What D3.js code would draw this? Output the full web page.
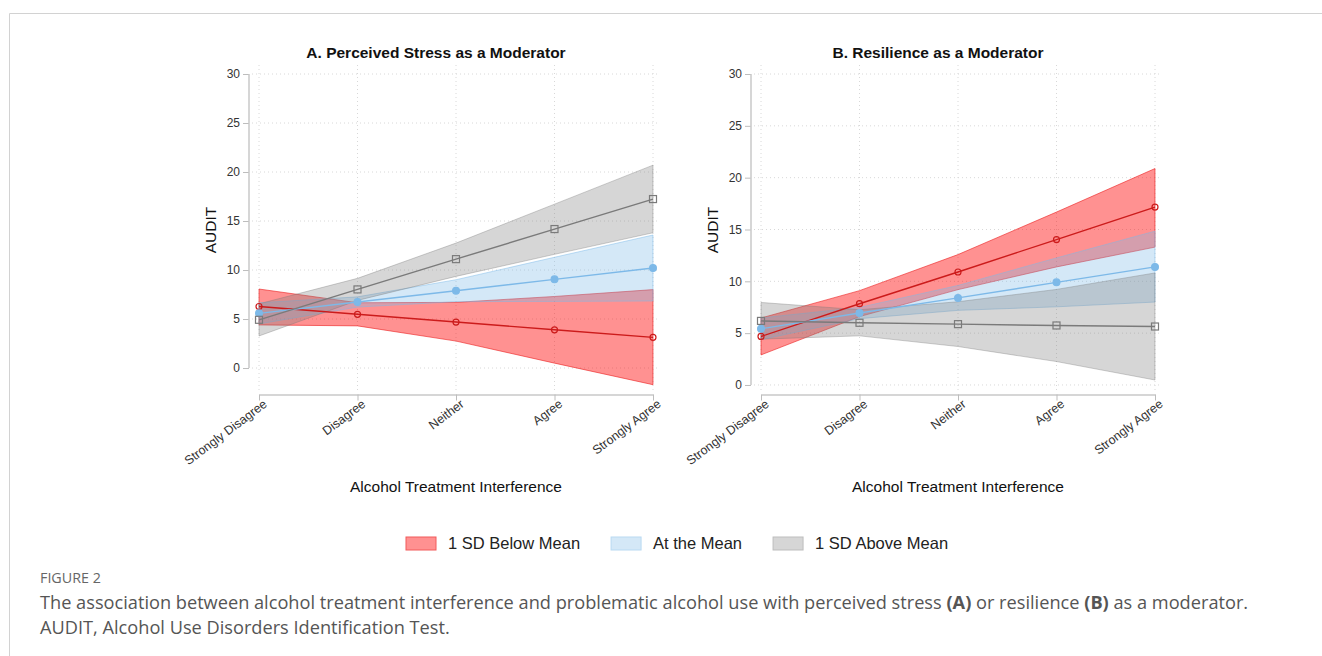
<!DOCTYPE html>
<html>
<head>
<meta charset="utf-8">
<script src="https://cdn.jsdelivr.net/npm/d3@7"></script>
<style>
  body { margin: 0; background: #fff; }
  svg { display: block; }
</style>
</head>
<body>
<div id="chart"></div>
<script>
const categories = ["Strongly Disagree", "Disagree", "Neither", "Agree", "Strongly Agree"];
const yTicks = [0, 5, 10, 15, 20, 25, 30];
const groups = ["1 SD Below Mean", "At the Mean", "1 SD Above Mean"];

// Panel A: perceived stress as moderator (predicted AUDIT, 95% CI)
const stressBelow    = [6.28, 5.48, 4.69, 3.90, 3.13];
const stressBelowLo  = [4.40, 4.30, 2.75, 0.50, -1.70];
const stressBelowHi  = [8.06, 6.66, 6.70, 7.30, 8.00];
const stressMean     = [5.58, 6.74, 7.89, 9.05, 10.20];
const stressMeanLo   = [4.50, 6.22, 6.77, 6.80, 6.84];
const stressMeanHi   = [6.66, 7.26, 9.01, 11.30, 13.57];
const stressAbove    = [4.92, 8.02, 11.11, 14.18, 17.24];
const stressAboveLo  = [3.27, 6.90, 9.35, 11.60, 13.80];
const stressAboveHi  = [6.55, 9.15, 12.75, 16.72, 20.70];

// Panel B: resilience as moderator
const resBelow   = [4.68, 7.84, 10.90, 14.03, 17.16];
const resBelowLo = [2.90, 6.60, 9.20, 11.39, 13.30];
const resBelowHi = [6.46, 9.10, 12.58, 16.68, 20.88];
const resMean    = [5.42, 6.94, 8.40, 9.90, 11.39];
const resMeanLo  = [4.37, 6.40, 7.20, 7.54, 8.00];
const resMeanHi  = [6.47, 7.48, 9.60, 12.26, 14.84];
const resAbove   = [6.18, 6.00, 5.87, 5.74, 5.64];
const resAboveLo = [4.42, 4.74, 3.71, 2.26, 0.48];
const resAboveHi = [7.96, 7.26, 8.03, 9.22, 10.81];

const width = 1322, height = 656;
const font = "'Liberation Sans', Arial, sans-serif";

// styles per group: below, mean, above
const styles = [
  {fill: "rgba(255,0,0,0.43)", edge: "rgba(235,30,30,0.75)", line: "#cc1b1b", marker: "circle", hollow: true},
  {fill: "rgba(125,185,232,0.33)", edge: "rgba(125,185,232,0.6)", line: "#7db9e8", marker: "circle", hollow: false},
  {fill: "rgba(128,128,128,0.32)", edge: "rgba(120,120,120,0.45)", line: "#7a7a7a", marker: "square", hollow: true}
];

const svg = d3.select("#chart")
  .append("svg")
  .attr("width", width)
  .attr("height", height)
  .attr("viewBox", [0, 0, width, height]);

// page frame
svg.append("path")
  .attr("d", `M${width},13.5H9.5V${height}`)
  .attr("fill", "none")
  .attr("stroke", "#d2d2d2")
  .attr("stroke-width", 1);

function drawPanel(opts) {
  const g = svg.append("g");

  const x = d3.scalePoint()
    .domain(categories)
    .range([opts.left, opts.left + 394]);

  const y = d3.scaleLinear()
    .domain([opts.yMin, 30])
    .range([394, 74]);

  const axisX = opts.left - 10;

  // grid
  g.append("g").selectAll("line")
    .data(yTicks)
    .join("line")
    .attr("x1", axisX + 3).attr("x2", opts.left + 401)
    .attr("y1", d => y(d)).attr("y2", d => y(d))
    .attr("stroke", "#d8d8d8").attr("stroke-dasharray", "1,3");

  g.append("g").selectAll("line")
    .data(categories)
    .join("line")
    .attr("x1", d => x(d)).attr("x2", d => x(d))
    .attr("y1", 65).attr("y2", 392)
    .attr("stroke", "#d8d8d8").attr("stroke-dasharray", "1,3");

  // CI bands
  const area = d3.area()
    .x((d, i) => x(categories[i]))
    .y0(d => y(d[0]))
    .y1(d => y(d[1]));

  opts.series.forEach((s, k) => {
    const band = s.lo.map((v, i) => [v, s.hi[i]]);
    g.append("path")
      .datum(band)
      .attr("d", area)
      .attr("fill", styles[k].fill)
      .attr("stroke", styles[k].edge)
      .attr("stroke-width", 0.8);
  });

  // lines and markers
  const line = d3.line()
    .x((d, i) => x(categories[i]))
    .y(d => y(d));

  opts.series.forEach((s, k) => {
    const st = styles[k];
    g.append("path")
      .datum(s.fit)
      .attr("d", line)
      .attr("fill", "none")
      .attr("stroke", st.line)
      .attr("stroke-width", 1.4);

    const pts = s.fit.map((v, i) => ({c: categories[i], v: v}));
    if (st.marker === "circle") {
      g.append("g").selectAll("circle")
        .data(pts)
        .join("circle")
        .attr("cx", d => x(d.c))
        .attr("cy", d => y(d.v))
        .attr("r", st.hollow ? 3 : 3.4)
        .attr("fill", st.hollow ? "none" : st.line)
        .attr("stroke", st.line)
        .attr("stroke-width", 1.2);
    } else {
      g.append("g").selectAll("rect")
        .data(pts)
        .join("rect")
        .attr("x", d => x(d.c) - 3.5)
        .attr("y", d => y(d.v) - 3.5)
        .attr("width", 7).attr("height", 7)
        .attr("fill", "none")
        .attr("stroke", st.line)
        .attr("stroke-width", 1.2);
    }
  });

  // y axis
  const yAxis = g.append("g")
    .attr("transform", `translate(${axisX},0)`)
    .call(d3.axisLeft(y).tickValues(yTicks).tickSize(6).tickPadding(3).tickSizeOuter(0));
  yAxis.select(".domain").remove();
  yAxis.append("line")
    .attr("y1", y(0)).attr("y2", y(30))
    .attr("stroke", "#c8c8c8").attr("stroke-width", 1.5);
  yAxis.selectAll(".tick line").attr("stroke", "#bdbdbd");
  yAxis.selectAll(".tick text")
    .attr("fill", "#333").attr("font-family", font).attr("font-size", 12);

  // x axis
  const xAxis = g.append("g")
    .attr("transform", `translate(0,394.5)`)
    .call(d3.axisBottom(x).tickSize(6).tickSizeOuter(0));
  xAxis.select(".domain").attr("stroke", "#c8c8c8").attr("stroke-width", 1.5);
  xAxis.selectAll(".tick line").attr("stroke", "#bdbdbd");
  xAxis.selectAll(".tick text")
    .attr("fill", "#333").attr("font-family", font).attr("font-size", 12.5)
    .attr("text-anchor", "end")
    .attr("dy", 0)
    .attr("transform", "translate(3,4) rotate(-37)");

  // titles
  g.append("text")
    .attr("x", opts.left + 177).attr("y", 58)
    .attr("text-anchor", "middle")
    .attr("font-family", font).attr("font-size", 15.5).attr("font-weight", "bold")
    .attr("fill", "#111")
    .text(opts.title);

  g.append("text")
    .attr("x", opts.left + 197).attr("y", 492)
    .attr("text-anchor", "middle")
    .attr("font-family", font).attr("font-size", 15.5)
    .attr("fill", "#111")
    .text("Alcohol Treatment Interference");

  g.append("text")
    .attr("transform", `translate(${opts.left - 43},230) rotate(-90)`)
    .attr("text-anchor", "middle")
    .attr("font-family", font).attr("font-size", 15.5)
    .attr("fill", "#111")
    .text("AUDIT");
}

drawPanel({
  left: 259,
  yMin: -2.65,
  title: "A. Perceived Stress as a Moderator",
  series: [
    {fit: stressBelow, lo: stressBelowLo, hi: stressBelowHi},
    {fit: stressMean, lo: stressMeanLo, hi: stressMeanHi},
    {fit: stressAbove, lo: stressAboveLo, hi: stressAboveHi}
  ]
});

drawPanel({
  left: 761,
  yMin: -0.87,
  title: "B. Resilience as a Moderator",
  series: [
    {fit: resBelow, lo: resBelowLo, hi: resBelowHi},
    {fit: resMean, lo: resMeanLo, hi: resMeanHi},
    {fit: resAbove, lo: resAboveLo, hi: resAboveHi}
  ]
});

// legend
const swatchFill = ["#ff9191", "#d4e8f7", "#d6d6d6"];
const swatchEdge = ["#f25a5a", "#b9daf2", "#bdbdbd"];
let lx = 406;
groups.forEach((name, k) => {
  svg.append("rect")
    .attr("x", lx).attr("y", 537)
    .attr("width", 30).attr("height", 13)
    .attr("fill", swatchFill[k])
    .attr("stroke", swatchEdge[k]).attr("stroke-width", 1);
  const t = svg.append("text")
    .attr("x", lx + 42).attr("y", 549)
    .attr("font-family", font).attr("font-size", 16.5)
    .attr("fill", "#222")
    .text(name);
  lx += 42 + t.node().getComputedTextLength() + 31;
});

// caption
const capFont = "'Open Sans', 'Noto Sans', sans-serif";
svg.append("text")
  .attr("x", 40).attr("y", 583)
  .attr("font-family", capFont).attr("font-size", 14.3)
  .attr("fill", "#666")
  .text("FIGURE 2");

const cap1 = svg.append("text")
  .attr("x", 40).attr("y", 609)
  .attr("font-family", capFont).attr("font-size", 18.2)
  .attr("fill", "#555");
cap1.append("tspan").text("The association between alcohol treatment interference and problematic alcohol use with perceived stress ");
cap1.append("tspan").attr("font-weight", "bold").text("(A)");
cap1.append("tspan").text(" or resilience ");
cap1.append("tspan").attr("font-weight", "bold").text("(B)");
cap1.append("tspan").text(" as a moderator.");

svg.append("text")
  .attr("x", 40).attr("y", 634)
  .attr("font-family", capFont).attr("font-size", 18.2)
  .attr("fill", "#555")
  .text("AUDIT, Alcohol Use Disorders Identification Test.");
</script>
</body>
</html>
